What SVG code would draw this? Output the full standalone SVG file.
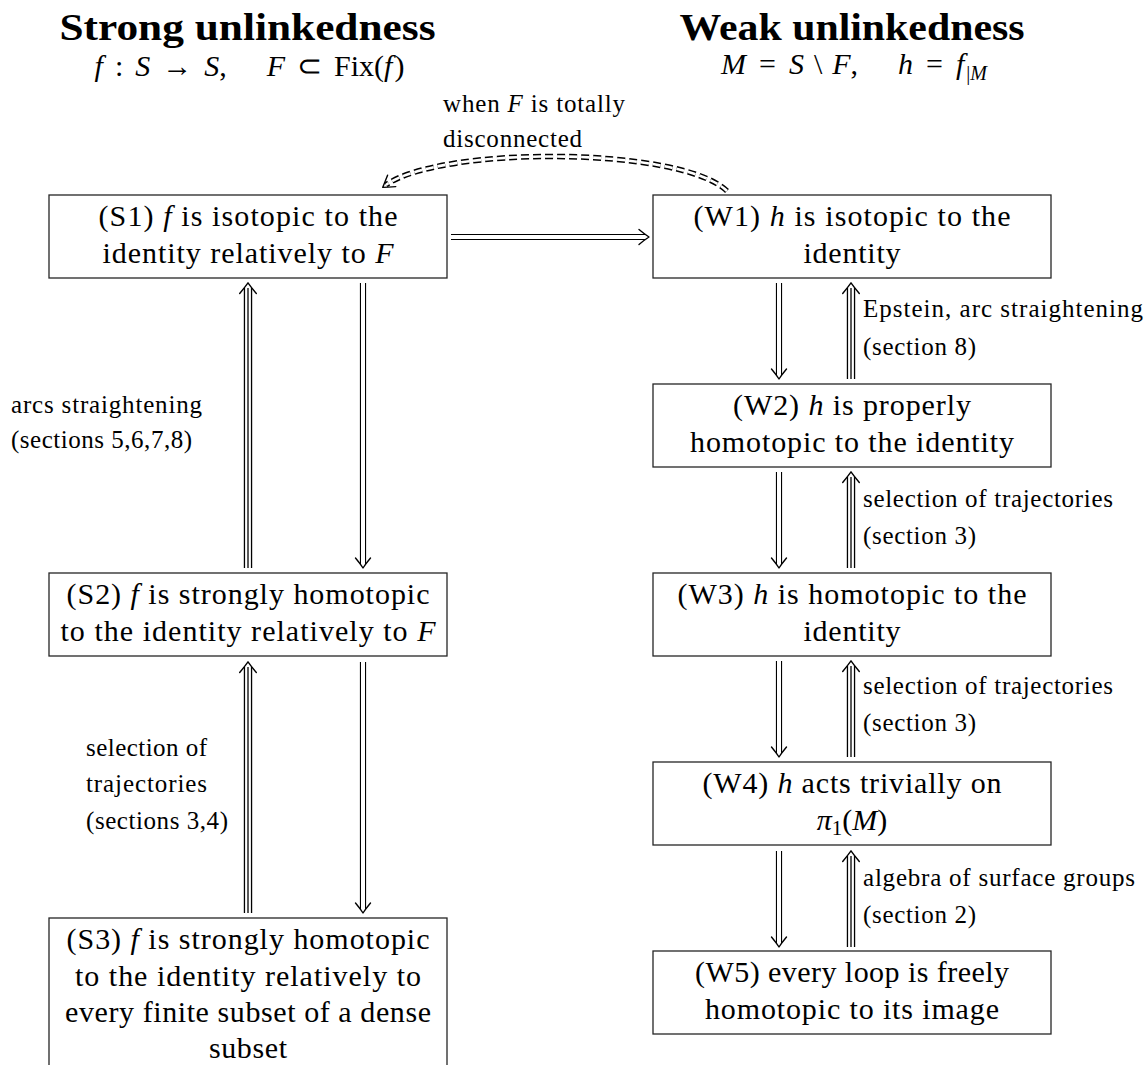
<svg xmlns="http://www.w3.org/2000/svg" width="1148" height="1065" viewBox="0 0 1148 1065">
<style>
text{font-family:"Liberation Serif","Times New Roman",serif;fill:#000}
.box{fill:#fff;stroke:#262626;stroke-width:1.3}
.t{font-size:30px;text-anchor:middle}
.l{font-size:25px}
.h{font-size:37px;font-weight:bold;text-anchor:middle}
.m{font-size:30px;text-anchor:middle}
.i{font-style:italic}
.o2{fill:none;stroke:#000;stroke-width:6.2}
.w2{fill:none;stroke:#fff;stroke-width:4.0}
.o3{fill:none;stroke:#000;stroke-width:8.4}
.w3{fill:none;stroke:#fff;stroke-width:5.8}
.c3{fill:none;stroke:#000;stroke-width:1.3}
.od{fill:none;stroke:#000;stroke-width:5.6;stroke-dasharray:8 4}
.wd{fill:none;stroke:#fff;stroke-width:2.6;stroke-dasharray:8 4}
.hd{fill:none;stroke:#000;stroke-width:1.4;stroke-linecap:round;stroke-linejoin:round}
</style>
<defs>
<marker id="hd2" markerUnits="userSpaceOnUse" orient="auto" overflow="visible" markerWidth="20" markerHeight="20" refX="0" refY="0">
<path class="hd" d="M -6,-7.5 Q 0,-2.5 4,0 Q 0,2.5 -6,7.5"/>
</marker>
<marker id="hd3" markerUnits="userSpaceOnUse" orient="auto" overflow="visible" markerWidth="20" markerHeight="20" refX="0" refY="0">
<path class="hd" d="M -5.5,-8.3 Q 1,-3 5.2,0 Q 1,3 -5.5,8.3"/>
</marker>
<marker id="hdd" markerUnits="userSpaceOnUse" orient="auto" overflow="visible" markerWidth="20" markerHeight="20" refX="0" refY="0">
<path class="hd" d="M -7,-7 Q 0,-2.5 4,0 Q 0,2.5 -7,7"/>
</marker>
</defs>
<rect x="0" y="0" width="1148" height="1065" fill="#fff"/>

<g id="headers">
<text class="h" x="247.5" y="40" textLength="376" lengthAdjust="spacingAndGlyphs">Strong unlinkedness</text>
<text class="h" x="852" y="40" textLength="345" lengthAdjust="spacingAndGlyphs">Weak unlinkedness</text>
<text class="m" x="249.5" y="76"><tspan class="i">f</tspan><tspan dx="12">:</tspan><tspan class="i" dx="12">S</tspan><tspan dx="12">→</tspan><tspan class="i" dx="12">S</tspan><tspan>,</tspan><tspan class="i" dx="40">F</tspan><tspan dx="12">⊂</tspan><tspan dx="12">Fix(</tspan><tspan class="i">f</tspan><tspan dx="2">)</tspan></text>
<text class="m" x="854" y="74"><tspan class="i">M</tspan><tspan dx="13">=</tspan><tspan class="i" dx="13">S</tspan><tspan dx="10">\</tspan><tspan class="i" dx="10">F</tspan><tspan>,</tspan><tspan class="i" dx="40">h</tspan><tspan dx="13">=</tspan><tspan class="i" dx="13">f</tspan><tspan dx="2" dy="6" font-size="20">|</tspan><tspan class="i" font-size="20">M</tspan></text>
</g>

<g id="S1">
<rect class="box" x="49" y="195" width="398" height="83"/>
<text class="t" x="248" y="226" textLength="299" lengthAdjust="spacing">(S1) <tspan class="i">f</tspan> is isotopic to the</text>
<text class="t" x="248" y="263" textLength="291" lengthAdjust="spacing">identity relatively to <tspan class="i">F</tspan></text>
</g>
<g id="S2">
<rect class="box" x="49" y="573" width="398" height="83"/>
<text class="t" x="248" y="604" textLength="363" lengthAdjust="spacing">(S2) <tspan class="i">f</tspan> is strongly homotopic</text>
<text class="t" x="248" y="641" textLength="375" lengthAdjust="spacing">to the identity relatively to <tspan class="i">F</tspan></text>
</g>
<g id="S3">
<rect class="box" x="49" y="918" width="398" height="160"/>
<text class="t" x="248" y="949" textLength="363" lengthAdjust="spacing">(S3) <tspan class="i">f</tspan> is strongly homotopic</text>
<text class="t" x="248" y="986" textLength="346" lengthAdjust="spacing">to the identity relatively to</text>
<text class="t" x="248" y="1022" textLength="366" lengthAdjust="spacing">every finite subset of a dense</text>
<text class="t" x="248" y="1058" textLength="78" lengthAdjust="spacing">subset</text>
</g>
<g id="W1">
<rect class="box" x="653" y="195" width="398" height="83"/>
<text class="t" x="852" y="226" textLength="317" lengthAdjust="spacing">(W1) <tspan class="i">h</tspan> is isotopic to the</text>
<text class="t" x="852" y="263" textLength="97" lengthAdjust="spacing">identity</text>
</g>
<g id="W2">
<rect class="box" x="653" y="384" width="398" height="83"/>
<text class="t" x="852" y="415" textLength="238" lengthAdjust="spacing">(W2) <tspan class="i">h</tspan> is properly</text>
<text class="t" x="852" y="452" textLength="324" lengthAdjust="spacing">homotopic to the identity</text>
</g>
<g id="W3">
<rect class="box" x="653" y="573" width="398" height="83"/>
<text class="t" x="852" y="604" textLength="349" lengthAdjust="spacing">(W3) <tspan class="i">h</tspan> is homotopic to the</text>
<text class="t" x="852" y="641" textLength="97" lengthAdjust="spacing">identity</text>
</g>
<g id="W4">
<rect class="box" x="653" y="762" width="398" height="83"/>
<text class="t" x="852" y="793" textLength="299" lengthAdjust="spacing">(W4) <tspan class="i">h</tspan> acts trivially on</text>
<text class="t" x="852" y="830"><tspan class="i">π</tspan><tspan font-size="21" dy="5">1</tspan><tspan dy="-5">(</tspan><tspan class="i">M</tspan>)</text>
</g>
<g id="W5">
<rect class="box" x="653" y="951" width="398" height="83"/>
<text class="t" x="852" y="982" textLength="314" lengthAdjust="spacing">(W5) every loop is freely</text>
<text class="t" x="852" y="1019" textLength="294" lengthAdjust="spacing">homotopic to its image</text>
</g>

<g id="labels">
<text class="l" x="443" y="112" textLength="182" lengthAdjust="spacing">when <tspan class="i">F</tspan> is totally</text>
<text class="l" x="443" y="147" textLength="139" lengthAdjust="spacing">disconnected</text>
<text class="l" x="11" y="413" textLength="191" lengthAdjust="spacing">arcs straightening</text>
<text class="l" x="11" y="448" textLength="181" lengthAdjust="spacing">(sections 5,6,7,8)</text>
<text class="l" x="86" y="756" textLength="121" lengthAdjust="spacing">selection of</text>
<text class="l" x="86" y="792" textLength="121" lengthAdjust="spacing">trajectories</text>
<text class="l" x="86" y="829" textLength="142" lengthAdjust="spacing">(sections 3,4)</text>
<text class="l" x="863" y="317" textLength="280" lengthAdjust="spacing">Epstein, arc straightening</text>
<text class="l" x="863" y="355" textLength="113" lengthAdjust="spacing">(section 8)</text>
<text class="l" x="863" y="507" textLength="250" lengthAdjust="spacing">selection of trajectories</text>
<text class="l" x="863" y="544" textLength="113" lengthAdjust="spacing">(section 3)</text>
<text class="l" x="863" y="694" textLength="250" lengthAdjust="spacing">selection of trajectories</text>
<text class="l" x="863" y="731" textLength="113" lengthAdjust="spacing">(section 3)</text>
<text class="l" x="863" y="886" textLength="272" lengthAdjust="spacing">algebra of surface groups</text>
<text class="l" x="863" y="923" textLength="113" lengthAdjust="spacing">(section 2)</text>
</g>

<g id="connectors">
<path class="o2" d="M 451,237 H 645"/>
<path class="w2" d="M 451,237 H 645" marker-end="url(#hd2)"/>
<path class="od" d="M 727,191 C 680,146 440,146 386,185"/>
<path class="wd" d="M 727,191 C 680,146 440,146 386,185" marker-end="url(#hdd)"/>
<path class="o3" d="M 248,568 V 288"/>
<path class="w3" d="M 248,568 V 288"/>
<path class="c3" d="M 248,568 V 288" marker-end="url(#hd3)"/>
<path class="o2" d="M 363,283 V 564"/>
<path class="w2" d="M 363,283 V 564" marker-end="url(#hd2)"/>
<path class="o3" d="M 248,913 V 667"/>
<path class="w3" d="M 248,913 V 667"/>
<path class="c3" d="M 248,913 V 667" marker-end="url(#hd3)"/>
<path class="o2" d="M 363,662 V 909"/>
<path class="w2" d="M 363,662 V 909" marker-end="url(#hd2)"/>
<path class="o2" d="M 779,283 V 375"/>
<path class="w2" d="M 779,283 V 375" marker-end="url(#hd2)"/>
<path class="o3" d="M 851,379 V 288"/>
<path class="w3" d="M 851,379 V 288"/>
<path class="c3" d="M 851,379 V 288" marker-end="url(#hd3)"/>
<path class="o2" d="M 779,472 V 564"/>
<path class="w2" d="M 779,472 V 564" marker-end="url(#hd2)"/>
<path class="o3" d="M 851,568 V 477"/>
<path class="w3" d="M 851,568 V 477"/>
<path class="c3" d="M 851,568 V 477" marker-end="url(#hd3)"/>
<path class="o2" d="M 779,661 V 753"/>
<path class="w2" d="M 779,661 V 753" marker-end="url(#hd2)"/>
<path class="o3" d="M 851,757 V 666"/>
<path class="w3" d="M 851,757 V 666"/>
<path class="c3" d="M 851,757 V 666" marker-end="url(#hd3)"/>
<path class="o2" d="M 779,851 V 943"/>
<path class="w2" d="M 779,851 V 943" marker-end="url(#hd2)"/>
<path class="o3" d="M 851,947 V 856"/>
<path class="w3" d="M 851,947 V 856"/>
<path class="c3" d="M 851,947 V 856" marker-end="url(#hd3)"/>
</g>
</svg>
